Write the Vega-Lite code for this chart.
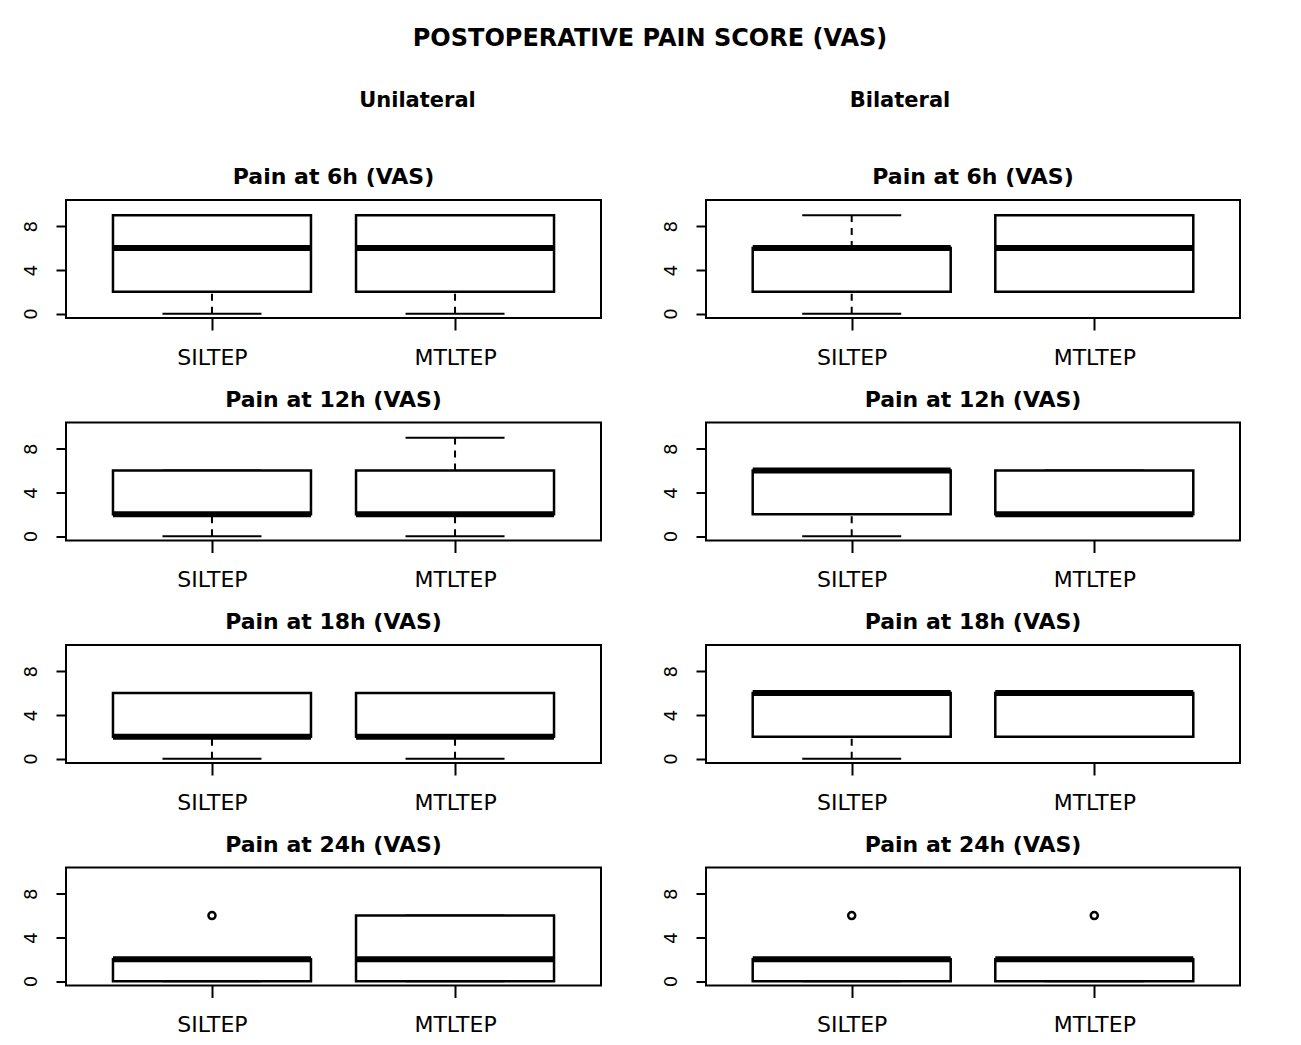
{
  "$schema": "https://vega.github.io/schema/vega-lite/v6.json",
  "padding": {"left": 20, "top": 27, "right": 5, "bottom": 5},
  "background": "white",
  "title": {"text": "POSTOPERATIVE PAIN SCORE (VAS)", "fontSize": 24, "anchor": "middle", "dx": 19, "offset": 39},
  "data": {"values": [
    {"side": "Unilateral", "time": "6h", "grp": "SILTEP", "pos": 1, "lo": 0, "q1": 2, "med": 6, "q3": 9, "hi": 9, "out": null},
    {"side": "Unilateral", "time": "6h", "grp": "MTLTEP", "pos": 2, "lo": 0, "q1": 2, "med": 6, "q3": 9, "hi": 9, "out": null},
    {"side": "Unilateral", "time": "12h", "grp": "SILTEP", "pos": 1, "lo": 0, "q1": 2, "med": 2, "q3": 6, "hi": 6, "out": null},
    {"side": "Unilateral", "time": "12h", "grp": "MTLTEP", "pos": 2, "lo": 0, "q1": 2, "med": 2, "q3": 6, "hi": 9, "out": null},
    {"side": "Unilateral", "time": "18h", "grp": "SILTEP", "pos": 1, "lo": 0, "q1": 2, "med": 2, "q3": 6, "hi": 6, "out": null},
    {"side": "Unilateral", "time": "18h", "grp": "MTLTEP", "pos": 2, "lo": 0, "q1": 2, "med": 2, "q3": 6, "hi": 6, "out": null},
    {"side": "Unilateral", "time": "24h", "grp": "SILTEP", "pos": 1, "lo": 0, "q1": 0, "med": 2, "q3": 2, "hi": 2, "out": 6},
    {"side": "Unilateral", "time": "24h", "grp": "MTLTEP", "pos": 2, "lo": 0, "q1": 0, "med": 2, "q3": 6, "hi": 6, "out": null},
    {"side": "Bilateral", "time": "6h", "grp": "SILTEP", "pos": 1, "lo": 0, "q1": 2, "med": 6, "q3": 6, "hi": 9, "out": null},
    {"side": "Bilateral", "time": "6h", "grp": "MTLTEP", "pos": 2, "lo": 2, "q1": 2, "med": 6, "q3": 9, "hi": 9, "out": null},
    {"side": "Bilateral", "time": "12h", "grp": "SILTEP", "pos": 1, "lo": 0, "q1": 2, "med": 6, "q3": 6, "hi": 6, "out": null},
    {"side": "Bilateral", "time": "12h", "grp": "MTLTEP", "pos": 2, "lo": 2, "q1": 2, "med": 2, "q3": 6, "hi": 6, "out": null},
    {"side": "Bilateral", "time": "18h", "grp": "SILTEP", "pos": 1, "lo": 0, "q1": 2, "med": 6, "q3": 6, "hi": 6, "out": null},
    {"side": "Bilateral", "time": "18h", "grp": "MTLTEP", "pos": 2, "lo": 2, "q1": 2, "med": 6, "q3": 6, "hi": 6, "out": null},
    {"side": "Bilateral", "time": "24h", "grp": "SILTEP", "pos": 1, "lo": 0, "q1": 0, "med": 2, "q3": 2, "hi": 2, "out": 6},
    {"side": "Bilateral", "time": "24h", "grp": "MTLTEP", "pos": 2, "lo": 0, "q1": 0, "med": 2, "q3": 2, "hi": 2, "out": 6}
  ]},
  "hconcat": [
    {
      "title": {"text": "Unilateral", "fontSize": 21, "dx": 106, "offset": 54},
      "vconcat": [
        {"title": "Pain at 6h (VAS)", "width": 535, "height": 118,
         "transform": [{"filter": "datum.side == 'Unilateral' && datum.time == '6h'"}],
         "encoding": {"x": {"field": "pos", "type": "quantitative", "title": null, "scale": {"domain": [0.42, 2.58], "nice": false, "zero": false}, "axis": {"values": [1, 2], "labelExpr": "datum.value == 1 ? 'SILTEP' : 'MTLTEP'"}}},
         "layer": [
          {"mark": {"type": "rule", "strokeDash": [7, 6], "strokeWidth": 2, "color": "black"}, "encoding": {"y": {"field": "lo", "type": "quantitative", "title": null, "scale": {"domain": [-0.4, 10.4], "nice": false, "zero": false}, "axis": {"values": [0, 2, 4, 6, 8, 10], "labelExpr": "datum.value % 4 == 0 && datum.value < 10 ? datum.label : ''"}}, "y2": {"field": "q1"}}},
          {"mark": {"type": "rule", "strokeDash": [7, 6], "strokeWidth": 2, "color": "black"}, "encoding": {"y": {"field": "q3", "type": "quantitative", "title": null}, "y2": {"field": "hi"}}},
          {"mark": {"type": "tick", "orient": "horizontal", "size": 99, "thickness": 2, "color": "black", "opacity": 1}, "encoding": {"y": {"field": "lo", "type": "quantitative", "title": null}}},
          {"mark": {"type": "tick", "orient": "horizontal", "size": 99, "thickness": 2, "color": "black", "opacity": 1}, "encoding": {"y": {"field": "hi", "type": "quantitative", "title": null}}},
          {"mark": {"type": "bar", "width": 198, "fill": "white", "stroke": "black", "strokeWidth": 2.5}, "encoding": {"y": {"field": "q1", "type": "quantitative", "title": null}, "y2": {"field": "q3"}}},
          {"mark": {"type": "tick", "orient": "horizontal", "size": 198, "thickness": 6, "color": "black", "opacity": 1}, "encoding": {"y": {"field": "med", "type": "quantitative", "title": null}}},
          {"mark": {"type": "point", "shape": "circle", "filled": false, "size": 50, "strokeWidth": 2.5, "color": "black", "opacity": 1}, "encoding": {"y": {"field": "out", "type": "quantitative", "title": null}}}
         ]},
        {"title": "Pain at 12h (VAS)", "width": 535, "height": 118,
         "transform": [{"filter": "datum.side == 'Unilateral' && datum.time == '12h'"}],
         "encoding": {"x": {"field": "pos", "type": "quantitative", "title": null, "scale": {"domain": [0.42, 2.58], "nice": false, "zero": false}, "axis": {"values": [1, 2], "labelExpr": "datum.value == 1 ? 'SILTEP' : 'MTLTEP'"}}},
         "layer": [
          {"mark": {"type": "rule", "strokeDash": [7, 6], "strokeWidth": 2, "color": "black"}, "encoding": {"y": {"field": "lo", "type": "quantitative", "title": null, "scale": {"domain": [-0.4, 10.4], "nice": false, "zero": false}, "axis": {"values": [0, 2, 4, 6, 8, 10], "labelExpr": "datum.value % 4 == 0 && datum.value < 10 ? datum.label : ''"}}, "y2": {"field": "q1"}}},
          {"mark": {"type": "rule", "strokeDash": [7, 6], "strokeWidth": 2, "color": "black"}, "encoding": {"y": {"field": "q3", "type": "quantitative", "title": null}, "y2": {"field": "hi"}}},
          {"mark": {"type": "tick", "orient": "horizontal", "size": 99, "thickness": 2, "color": "black", "opacity": 1}, "encoding": {"y": {"field": "lo", "type": "quantitative", "title": null}}},
          {"mark": {"type": "tick", "orient": "horizontal", "size": 99, "thickness": 2, "color": "black", "opacity": 1}, "encoding": {"y": {"field": "hi", "type": "quantitative", "title": null}}},
          {"mark": {"type": "bar", "width": 198, "fill": "white", "stroke": "black", "strokeWidth": 2.5}, "encoding": {"y": {"field": "q1", "type": "quantitative", "title": null}, "y2": {"field": "q3"}}},
          {"mark": {"type": "tick", "orient": "horizontal", "size": 198, "thickness": 6, "color": "black", "opacity": 1}, "encoding": {"y": {"field": "med", "type": "quantitative", "title": null}}},
          {"mark": {"type": "point", "shape": "circle", "filled": false, "size": 50, "strokeWidth": 2.5, "color": "black", "opacity": 1}, "encoding": {"y": {"field": "out", "type": "quantitative", "title": null}}}
         ]},
        {"title": "Pain at 18h (VAS)", "width": 535, "height": 118,
         "transform": [{"filter": "datum.side == 'Unilateral' && datum.time == '18h'"}],
         "encoding": {"x": {"field": "pos", "type": "quantitative", "title": null, "scale": {"domain": [0.42, 2.58], "nice": false, "zero": false}, "axis": {"values": [1, 2], "labelExpr": "datum.value == 1 ? 'SILTEP' : 'MTLTEP'"}}},
         "layer": [
          {"mark": {"type": "rule", "strokeDash": [7, 6], "strokeWidth": 2, "color": "black"}, "encoding": {"y": {"field": "lo", "type": "quantitative", "title": null, "scale": {"domain": [-0.4, 10.4], "nice": false, "zero": false}, "axis": {"values": [0, 2, 4, 6, 8, 10], "labelExpr": "datum.value % 4 == 0 && datum.value < 10 ? datum.label : ''"}}, "y2": {"field": "q1"}}},
          {"mark": {"type": "rule", "strokeDash": [7, 6], "strokeWidth": 2, "color": "black"}, "encoding": {"y": {"field": "q3", "type": "quantitative", "title": null}, "y2": {"field": "hi"}}},
          {"mark": {"type": "tick", "orient": "horizontal", "size": 99, "thickness": 2, "color": "black", "opacity": 1}, "encoding": {"y": {"field": "lo", "type": "quantitative", "title": null}}},
          {"mark": {"type": "tick", "orient": "horizontal", "size": 99, "thickness": 2, "color": "black", "opacity": 1}, "encoding": {"y": {"field": "hi", "type": "quantitative", "title": null}}},
          {"mark": {"type": "bar", "width": 198, "fill": "white", "stroke": "black", "strokeWidth": 2.5}, "encoding": {"y": {"field": "q1", "type": "quantitative", "title": null}, "y2": {"field": "q3"}}},
          {"mark": {"type": "tick", "orient": "horizontal", "size": 198, "thickness": 6, "color": "black", "opacity": 1}, "encoding": {"y": {"field": "med", "type": "quantitative", "title": null}}},
          {"mark": {"type": "point", "shape": "circle", "filled": false, "size": 50, "strokeWidth": 2.5, "color": "black", "opacity": 1}, "encoding": {"y": {"field": "out", "type": "quantitative", "title": null}}}
         ]},
        {"title": "Pain at 24h (VAS)", "width": 535, "height": 118,
         "transform": [{"filter": "datum.side == 'Unilateral' && datum.time == '24h'"}],
         "encoding": {"x": {"field": "pos", "type": "quantitative", "title": null, "scale": {"domain": [0.42, 2.58], "nice": false, "zero": false}, "axis": {"values": [1, 2], "labelExpr": "datum.value == 1 ? 'SILTEP' : 'MTLTEP'"}}},
         "layer": [
          {"mark": {"type": "rule", "strokeDash": [7, 6], "strokeWidth": 2, "color": "black"}, "encoding": {"y": {"field": "lo", "type": "quantitative", "title": null, "scale": {"domain": [-0.4, 10.4], "nice": false, "zero": false}, "axis": {"values": [0, 2, 4, 6, 8, 10], "labelExpr": "datum.value % 4 == 0 && datum.value < 10 ? datum.label : ''"}}, "y2": {"field": "q1"}}},
          {"mark": {"type": "rule", "strokeDash": [7, 6], "strokeWidth": 2, "color": "black"}, "encoding": {"y": {"field": "q3", "type": "quantitative", "title": null}, "y2": {"field": "hi"}}},
          {"mark": {"type": "tick", "orient": "horizontal", "size": 99, "thickness": 2, "color": "black", "opacity": 1}, "encoding": {"y": {"field": "lo", "type": "quantitative", "title": null}}},
          {"mark": {"type": "tick", "orient": "horizontal", "size": 99, "thickness": 2, "color": "black", "opacity": 1}, "encoding": {"y": {"field": "hi", "type": "quantitative", "title": null}}},
          {"mark": {"type": "bar", "width": 198, "fill": "white", "stroke": "black", "strokeWidth": 2.5}, "encoding": {"y": {"field": "q1", "type": "quantitative", "title": null}, "y2": {"field": "q3"}}},
          {"mark": {"type": "tick", "orient": "horizontal", "size": 198, "thickness": 6, "color": "black", "opacity": 1}, "encoding": {"y": {"field": "med", "type": "quantitative", "title": null}}},
          {"mark": {"type": "point", "shape": "circle", "filled": false, "size": 50, "strokeWidth": 2.5, "color": "black", "opacity": 1}, "encoding": {"y": {"field": "out", "type": "quantitative", "title": null}}}
         ]}
      ]
    },
    {
      "title": {"text": "Bilateral", "fontSize": 21, "dx": -51, "offset": 54},
      "vconcat": [
        {"title": "Pain at 6h (VAS)", "width": 534, "height": 118,
         "transform": [{"filter": "datum.side == 'Bilateral' && datum.time == '6h'"}],
         "encoding": {"x": {"field": "pos", "type": "quantitative", "title": null, "scale": {"domain": [0.42, 2.58], "nice": false, "zero": false}, "axis": {"values": [1, 2], "labelExpr": "datum.value == 1 ? 'SILTEP' : 'MTLTEP'"}}},
         "layer": [
          {"mark": {"type": "rule", "strokeDash": [7, 6], "strokeWidth": 2, "color": "black"}, "encoding": {"y": {"field": "lo", "type": "quantitative", "title": null, "scale": {"domain": [-0.4, 10.4], "nice": false, "zero": false}, "axis": {"values": [0, 2, 4, 6, 8, 10], "labelExpr": "datum.value % 4 == 0 && datum.value < 10 ? datum.label : ''"}}, "y2": {"field": "q1"}}},
          {"mark": {"type": "rule", "strokeDash": [7, 6], "strokeWidth": 2, "color": "black"}, "encoding": {"y": {"field": "q3", "type": "quantitative", "title": null}, "y2": {"field": "hi"}}},
          {"mark": {"type": "tick", "orient": "horizontal", "size": 99, "thickness": 2, "color": "black", "opacity": 1}, "encoding": {"y": {"field": "lo", "type": "quantitative", "title": null}}},
          {"mark": {"type": "tick", "orient": "horizontal", "size": 99, "thickness": 2, "color": "black", "opacity": 1}, "encoding": {"y": {"field": "hi", "type": "quantitative", "title": null}}},
          {"mark": {"type": "bar", "width": 198, "fill": "white", "stroke": "black", "strokeWidth": 2.5}, "encoding": {"y": {"field": "q1", "type": "quantitative", "title": null}, "y2": {"field": "q3"}}},
          {"mark": {"type": "tick", "orient": "horizontal", "size": 198, "thickness": 6, "color": "black", "opacity": 1}, "encoding": {"y": {"field": "med", "type": "quantitative", "title": null}}},
          {"mark": {"type": "point", "shape": "circle", "filled": false, "size": 50, "strokeWidth": 2.5, "color": "black", "opacity": 1}, "encoding": {"y": {"field": "out", "type": "quantitative", "title": null}}}
         ]},
        {"title": "Pain at 12h (VAS)", "width": 534, "height": 118,
         "transform": [{"filter": "datum.side == 'Bilateral' && datum.time == '12h'"}],
         "encoding": {"x": {"field": "pos", "type": "quantitative", "title": null, "scale": {"domain": [0.42, 2.58], "nice": false, "zero": false}, "axis": {"values": [1, 2], "labelExpr": "datum.value == 1 ? 'SILTEP' : 'MTLTEP'"}}},
         "layer": [
          {"mark": {"type": "rule", "strokeDash": [7, 6], "strokeWidth": 2, "color": "black"}, "encoding": {"y": {"field": "lo", "type": "quantitative", "title": null, "scale": {"domain": [-0.4, 10.4], "nice": false, "zero": false}, "axis": {"values": [0, 2, 4, 6, 8, 10], "labelExpr": "datum.value % 4 == 0 && datum.value < 10 ? datum.label : ''"}}, "y2": {"field": "q1"}}},
          {"mark": {"type": "rule", "strokeDash": [7, 6], "strokeWidth": 2, "color": "black"}, "encoding": {"y": {"field": "q3", "type": "quantitative", "title": null}, "y2": {"field": "hi"}}},
          {"mark": {"type": "tick", "orient": "horizontal", "size": 99, "thickness": 2, "color": "black", "opacity": 1}, "encoding": {"y": {"field": "lo", "type": "quantitative", "title": null}}},
          {"mark": {"type": "tick", "orient": "horizontal", "size": 99, "thickness": 2, "color": "black", "opacity": 1}, "encoding": {"y": {"field": "hi", "type": "quantitative", "title": null}}},
          {"mark": {"type": "bar", "width": 198, "fill": "white", "stroke": "black", "strokeWidth": 2.5}, "encoding": {"y": {"field": "q1", "type": "quantitative", "title": null}, "y2": {"field": "q3"}}},
          {"mark": {"type": "tick", "orient": "horizontal", "size": 198, "thickness": 6, "color": "black", "opacity": 1}, "encoding": {"y": {"field": "med", "type": "quantitative", "title": null}}},
          {"mark": {"type": "point", "shape": "circle", "filled": false, "size": 50, "strokeWidth": 2.5, "color": "black", "opacity": 1}, "encoding": {"y": {"field": "out", "type": "quantitative", "title": null}}}
         ]},
        {"title": "Pain at 18h (VAS)", "width": 534, "height": 118,
         "transform": [{"filter": "datum.side == 'Bilateral' && datum.time == '18h'"}],
         "encoding": {"x": {"field": "pos", "type": "quantitative", "title": null, "scale": {"domain": [0.42, 2.58], "nice": false, "zero": false}, "axis": {"values": [1, 2], "labelExpr": "datum.value == 1 ? 'SILTEP' : 'MTLTEP'"}}},
         "layer": [
          {"mark": {"type": "rule", "strokeDash": [7, 6], "strokeWidth": 2, "color": "black"}, "encoding": {"y": {"field": "lo", "type": "quantitative", "title": null, "scale": {"domain": [-0.4, 10.4], "nice": false, "zero": false}, "axis": {"values": [0, 2, 4, 6, 8, 10], "labelExpr": "datum.value % 4 == 0 && datum.value < 10 ? datum.label : ''"}}, "y2": {"field": "q1"}}},
          {"mark": {"type": "rule", "strokeDash": [7, 6], "strokeWidth": 2, "color": "black"}, "encoding": {"y": {"field": "q3", "type": "quantitative", "title": null}, "y2": {"field": "hi"}}},
          {"mark": {"type": "tick", "orient": "horizontal", "size": 99, "thickness": 2, "color": "black", "opacity": 1}, "encoding": {"y": {"field": "lo", "type": "quantitative", "title": null}}},
          {"mark": {"type": "tick", "orient": "horizontal", "size": 99, "thickness": 2, "color": "black", "opacity": 1}, "encoding": {"y": {"field": "hi", "type": "quantitative", "title": null}}},
          {"mark": {"type": "bar", "width": 198, "fill": "white", "stroke": "black", "strokeWidth": 2.5}, "encoding": {"y": {"field": "q1", "type": "quantitative", "title": null}, "y2": {"field": "q3"}}},
          {"mark": {"type": "tick", "orient": "horizontal", "size": 198, "thickness": 6, "color": "black", "opacity": 1}, "encoding": {"y": {"field": "med", "type": "quantitative", "title": null}}},
          {"mark": {"type": "point", "shape": "circle", "filled": false, "size": 50, "strokeWidth": 2.5, "color": "black", "opacity": 1}, "encoding": {"y": {"field": "out", "type": "quantitative", "title": null}}}
         ]},
        {"title": "Pain at 24h (VAS)", "width": 534, "height": 118,
         "transform": [{"filter": "datum.side == 'Bilateral' && datum.time == '24h'"}],
         "encoding": {"x": {"field": "pos", "type": "quantitative", "title": null, "scale": {"domain": [0.42, 2.58], "nice": false, "zero": false}, "axis": {"values": [1, 2], "labelExpr": "datum.value == 1 ? 'SILTEP' : 'MTLTEP'"}}},
         "layer": [
          {"mark": {"type": "rule", "strokeDash": [7, 6], "strokeWidth": 2, "color": "black"}, "encoding": {"y": {"field": "lo", "type": "quantitative", "title": null, "scale": {"domain": [-0.4, 10.4], "nice": false, "zero": false}, "axis": {"values": [0, 2, 4, 6, 8, 10], "labelExpr": "datum.value % 4 == 0 && datum.value < 10 ? datum.label : ''"}}, "y2": {"field": "q1"}}},
          {"mark": {"type": "rule", "strokeDash": [7, 6], "strokeWidth": 2, "color": "black"}, "encoding": {"y": {"field": "q3", "type": "quantitative", "title": null}, "y2": {"field": "hi"}}},
          {"mark": {"type": "tick", "orient": "horizontal", "size": 99, "thickness": 2, "color": "black", "opacity": 1}, "encoding": {"y": {"field": "lo", "type": "quantitative", "title": null}}},
          {"mark": {"type": "tick", "orient": "horizontal", "size": 99, "thickness": 2, "color": "black", "opacity": 1}, "encoding": {"y": {"field": "hi", "type": "quantitative", "title": null}}},
          {"mark": {"type": "bar", "width": 198, "fill": "white", "stroke": "black", "strokeWidth": 2.5}, "encoding": {"y": {"field": "q1", "type": "quantitative", "title": null}, "y2": {"field": "q3"}}},
          {"mark": {"type": "tick", "orient": "horizontal", "size": 198, "thickness": 6, "color": "black", "opacity": 1}, "encoding": {"y": {"field": "med", "type": "quantitative", "title": null}}},
          {"mark": {"type": "point", "shape": "circle", "filled": false, "size": 50, "strokeWidth": 2.5, "color": "black", "opacity": 1}, "encoding": {"y": {"field": "out", "type": "quantitative", "title": null}}}
         ]}
      ]
    }
  ],
  "spacing": 58,
  "config": {
    "font": "DejaVu Sans",
    "concat": {"spacing": 18.5},
    "view": {"stroke": "black", "strokeWidth": 2},
    "axisY": {"grid": false, "domain": false, "tickSize": 10, "tickWidth": 2, "tickColor": "black", "labelAngle": 270, "labelAlign": "center", "labelBaseline": "alphabetic", "labelFontSize": 18, "labelPadding": 20, "labelColor": "black"},
    "axisX": {"grid": false, "domain": false, "tickSize": 12, "tickWidth": 2, "tickColor": "black", "labelFontSize": 22, "labelPadding": 17, "labelColor": "black"},
    "title": {"fontSize": 22, "fontWeight": "bold", "color": "black", "offset": 11, "anchor": "middle"}
  }
}
